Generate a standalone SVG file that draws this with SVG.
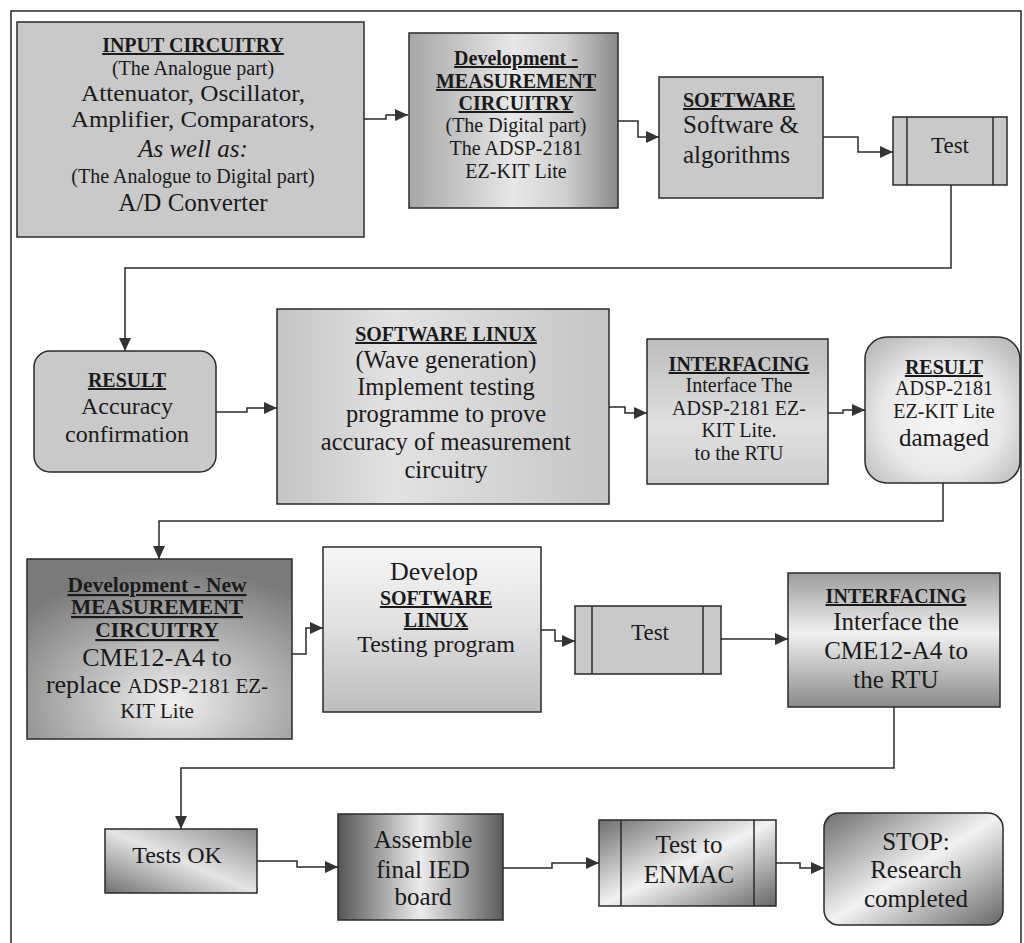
<svg xmlns="http://www.w3.org/2000/svg" width="1024" height="943" viewBox="0 0 1024 943">
<style>
text{font-family:"Liberation Serif","Times New Roman",serif;fill:#1a1a1a;text-anchor:middle}
.b{font-weight:bold;font-size:20px;text-decoration:underline}
.s{font-size:20px}
.m{font-size:25px}
.i{font-style:italic;font-size:25px}
.box{stroke:#2a2a2a;stroke-width:1.5}
.ln{fill:none;stroke:#2a2a2a;stroke-width:1.5}
.conn path{fill:none;stroke:#2a2a2a;stroke-width:1.5;marker-end:url(#ah)}
</style>
<defs>
<marker id="ah" markerUnits="userSpaceOnUse" markerWidth="13" markerHeight="12" refX="13" refY="6" orient="auto">
<path d="M0,0 L13,6 L0,12 z" fill="#333"/>
</marker>
<linearGradient id="g2" x1="0" y1="0" x2="1" y2="0"><stop offset="0" stop-color="#a6a6a6"/><stop offset="0.5" stop-color="#e8e8e8"/><stop offset="0.75" stop-color="#cfcfcf"/><stop offset="1" stop-color="#8a8a8a"/></linearGradient>
<linearGradient id="g6" x1="0" y1="0" x2="1" y2="0"><stop offset="0" stop-color="#c4c4c4"/><stop offset="0.35" stop-color="#e2e2e2"/><stop offset="1" stop-color="#c6c6c6"/></linearGradient>
<linearGradient id="g7" x1="0" y1="0" x2="0" y2="1"><stop offset="0" stop-color="#bcbcbc"/><stop offset="0.6" stop-color="#e0e0e0"/><stop offset="1" stop-color="#cdcdcd"/></linearGradient>
<radialGradient id="g8" cx="0.5" cy="0.55" r="0.65"><stop offset="0" stop-color="#f8f8f8"/><stop offset="0.6" stop-color="#e8e8e8"/><stop offset="1" stop-color="#bdbdbd"/></radialGradient>
<radialGradient id="g9" cx="0.55" cy="0.8" r="0.75"><stop offset="0" stop-color="#f0f0f0"/><stop offset="1" stop-color="#7a7a7a"/></radialGradient>
<linearGradient id="g10" x1="0" y1="0" x2="0" y2="1"><stop offset="0" stop-color="#f6f6f6"/><stop offset="0.45" stop-color="#e2e2e2"/><stop offset="1" stop-color="#bdbdbd"/></linearGradient>
<linearGradient id="g12" x1="0" y1="0" x2="0" y2="1"><stop offset="0" stop-color="#9c9c9c"/><stop offset="0.45" stop-color="#f0f0f0"/><stop offset="1" stop-color="#8a8a8a"/></linearGradient>
<linearGradient id="g13" x1="0" y1="1" x2="1" y2="0"><stop offset="0" stop-color="#707070"/><stop offset="0.5" stop-color="#e4e4e4"/><stop offset="1" stop-color="#8a8a8a"/></linearGradient>
<linearGradient id="g14" x1="0" y1="0" x2="1" y2="0"><stop offset="0" stop-color="#555"/><stop offset="0.5" stop-color="#ececec"/><stop offset="1" stop-color="#5a5a5a"/></linearGradient>
<linearGradient id="g15" x1="0" y1="0" x2="1" y2="1"><stop offset="0" stop-color="#6e6e6e"/><stop offset="0.5" stop-color="#f2f2f2"/><stop offset="1" stop-color="#666"/></linearGradient>
</defs>
<rect width="1024" height="943" fill="#fff"/>
<path class="ln" d="M11,943 V11 H1021 V943"/>

<g class="conn">
<path d="M364,119 H386 V115 H408"/>
<path d="M618,121 H638 V137 H659"/>
<path d="M823,137 H858 V152 H893"/>
<path d="M951,185 V268 H125 V351"/>
<path d="M216,412 H247 V408 H277"/>
<path d="M609,407 H625 V413 H647"/>
<path d="M828,413 H843 V410 H865"/>
<path d="M943,483 V521 H159 V559"/>
<path d="M292,654 H306 V628 H323"/>
<path d="M541,630 H555 V641 H575"/>
<path d="M721,639 H788"/>
<path d="M894,707 V768 H181 V829"/>
<path d="M257,861 H297 V867 H338"/>
<path d="M503,868 H552 V863 H599"/>
<path d="M776,863 H800 V868 H824"/>
</g>

<g id="n1">
<rect class="box" x="17" y="22" width="347" height="215" fill="#c9c9c9"/>
<text x="193" y="52" class="b">INPUT CIRCUITRY</text>
<text x="193" y="75" class="s">(The Analogue part)</text>
<text x="193" y="101" style="font-size:23px" textLength="224" lengthAdjust="spacingAndGlyphs">Attenuator, Oscillator,</text>
<text x="193" y="127" style="font-size:23px" textLength="244" lengthAdjust="spacingAndGlyphs">Amplifier, Comparators,</text>
<text x="193" y="157" class="i">As well as:</text>
<text x="193" y="183" class="s">(The Analogue to Digital part)</text>
<text x="193" y="211" class="m">A/D Converter</text>
</g>

<g id="n2">
<rect class="box" x="409" y="33" width="209" height="175" fill="url(#g2)"/>
<text x="516" y="65" class="b">Development -</text>
<text x="516" y="88" class="b">MEASUREMENT</text>
<text x="516" y="110" class="b">CIRCUITRY</text>
<text x="516" y="132" class="s">(The Digital part)</text>
<text x="516" y="155" class="s">The ADSP-2181</text>
<text x="516" y="178" class="s">EZ-KIT Lite</text>
</g>

<g id="n3">
<rect class="box" x="659" y="77" width="164" height="121" fill="#c9c9c9"/>
<text x="683" y="107" class="b" style="text-anchor:start">SOFTWARE</text>
<text x="683" y="133" class="m" style="text-anchor:start">Software &amp;</text>
<text x="683" y="163" class="m" style="text-anchor:start">algorithms</text>
</g>

<g id="n4">
<rect class="box" x="893" y="117" width="114" height="68" fill="#c9c9c9"/>
<path class="ln" d="M907,117 V185 M993,117 V185"/>
<text x="950" y="153" style="font-size:23px">Test</text>
</g>

<g id="n5">
<rect class="box" x="34" y="351" width="182" height="121" rx="16" fill="#c9c9c9"/>
<text x="127" y="387" class="b">RESULT</text>
<text x="127" y="414" style="font-size:24px">Accuracy</text>
<text x="127" y="442" style="font-size:24px">confirmation</text>
</g>

<g id="n6">
<rect class="box" x="277" y="309" width="332" height="195" fill="url(#g6)"/>
<text x="446" y="341" class="b">SOFTWARE LINUX</text>
<text x="446" y="368" style="font-size:24.5px">(Wave generation)</text>
<text x="446" y="395" style="font-size:24.5px">Implement testing</text>
<text x="446" y="422" style="font-size:24.5px">programme to prove</text>
<text x="446" y="450" style="font-size:24.5px">accuracy of measurement</text>
<text x="446" y="478" style="font-size:24.5px">circuitry</text>
</g>

<g id="n7">
<rect class="box" x="647" y="339" width="181" height="145" fill="url(#g7)"/>
<text x="739" y="371" class="b">INTERFACING</text>
<text x="739" y="392" class="s">Interface The</text>
<text x="739" y="415" class="s">ADSP-2181 EZ-</text>
<text x="739" y="437" class="s">KIT Lite.</text>
<text x="739" y="460" class="s">to the RTU</text>
</g>

<g id="n8">
<rect class="box" x="865" y="337" width="155" height="146" rx="22" fill="url(#g8)"/>
<text x="944" y="374" class="b">RESULT</text>
<text x="944" y="395" class="s">ADSP-2181</text>
<text x="944" y="418" class="s">EZ-KIT Lite</text>
<text x="944" y="446" class="m">damaged</text>
</g>

<g id="n9">
<rect class="box" x="27" y="559" width="265" height="180" fill="url(#g9)"/>
<text x="157" y="592" class="b" style="font-size:21.5px">Development - New</text>
<text x="157" y="614" class="b" style="font-size:21.5px">MEASUREMENT</text>
<text x="157" y="637" class="b" style="font-size:21.5px">CIRCUITRY</text>
<text x="157" y="666" style="font-size:26px">CME12-A4  to</text>
<text x="157" y="693"><tspan style="font-size:26px">replace </tspan><tspan style="font-size:21px">ADSP-2181 EZ-</tspan></text>
<text x="157" y="718" style="font-size:21px">KIT Lite</text>
</g>

<g id="n10">
<rect class="box" x="323" y="547" width="218" height="165" fill="url(#g10)"/>
<text x="434" y="580" style="font-size:26px">Develop</text>
<text x="436" y="605" class="b">SOFTWARE</text>
<text x="436" y="627" class="b">LINUX</text>
<text x="436" y="652" style="font-size:24px">Testing program</text>
</g>

<g id="n11">
<rect class="box" x="575" y="606" width="146" height="68" fill="#c9c9c9"/>
<path class="ln" d="M592,606 V674 M703,606 V674"/>
<text x="650" y="640" style="font-size:23px">Test</text>
</g>

<g id="n12">
<rect class="box" x="788" y="573" width="212" height="134" fill="url(#g12)"/>
<text x="896" y="603" class="b">INTERFACING</text>
<text x="896" y="630" class="m">Interface the</text>
<text x="896" y="659" class="m">CME12-A4 to</text>
<text x="896" y="688" class="m">the RTU</text>
</g>

<g id="n13">
<rect class="box" x="105" y="829" width="152" height="64" fill="url(#g13)"/>
<text x="177" y="863" style="font-size:24px">Tests OK</text>
</g>

<g id="n14">
<rect class="box" x="338" y="814" width="165" height="106" fill="url(#g14)"/>
<text x="423" y="848" class="m">Assemble</text>
<text x="423" y="878" class="m">final IED</text>
<text x="423" y="905" class="m">board</text>
</g>

<g id="n15">
<rect class="box" x="599" y="820" width="177" height="86" fill="url(#g15)"/>
<path class="ln" d="M621,820 V906 M754,820 V906"/>
<text x="689" y="853" class="m">Test to</text>
<text x="689" y="883" class="m">ENMAC</text>
</g>

<g id="n16">
<rect class="box" x="824" y="813" width="179" height="112" rx="15" fill="url(#g15)"/>
<text x="916" y="850" class="m">STOP:</text>
<text x="916" y="878" class="m">Research</text>
<text x="916" y="907" class="m">completed</text>
</g>
</svg>
